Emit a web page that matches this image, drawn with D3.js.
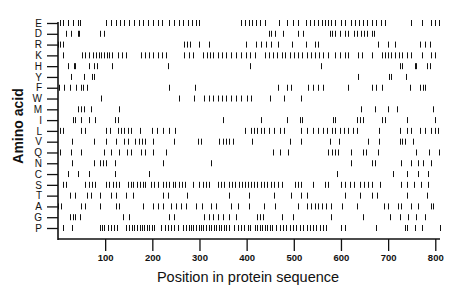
<!DOCTYPE html>
<html>
<head>
<meta charset="utf-8">
<script src="https://cdn.jsdelivr.net/npm/d3@7"></script>
<style>
  body { margin: 0; background: #fff; }
  svg { display: block; font-family: Arial, "Liberation Sans", sans-serif; }
  .tick text { fill: #111; }
</style>
</head>
<body>
<div id="chart"></div>
<script>
const WIDTH = 460
const HEIGHT = 299

// residues, top to bottom
const acids = ['E', 'D', 'R', 'K', 'H', 'Y', 'F', 'W', 'M', 'I', 'L', 'V', 'Q', 'N', 'C', 'S', 'T', 'A', 'G', 'P']
const xTicks = [100, 200, 300, 400, 500, 600, 700, 800]
const seqLength = 810

// positions of each amino acid along the sequence
const posE = [4, 11, 21, 32, 42, 47, 102, 112, 122, 132, 141, 151, 161, 171, 181, 191, 201, 211, 221, 236, 247, 256, 266, 276, 284, 293, 300, 388, 396, 404, 412, 419, 428, 438, 468, 486, 498, 509, 525, 534, 543, 551, 560, 567, 573, 578, 588, 600, 608, 622, 629, 638, 647, 656, 666, 675, 684, 694, 749, 771, 790, 799, 807]
const posD = [17, 28, 42, 45, 88, 98, 447, 452, 461, 477, 509, 520, 576, 581, 587, 597, 608, 614, 628, 635, 642, 649, 656, 665, 670]
const posR = [1, 4, 10, 268, 273, 279, 300, 321, 399, 419, 430, 440, 451, 467, 496, 525, 544, 551, 679, 700, 714, 767, 778, 788]
const posK = [10, 51, 58, 65, 75, 81, 86, 92, 98, 103, 109, 115, 127, 136, 144, 176, 185, 194, 202, 211, 221, 228, 268, 277, 287, 307, 315, 322, 329, 339, 348, 357, 367, 378, 388, 399, 407, 417, 438, 447, 456, 465, 474, 482, 491, 501, 509, 518, 527, 536, 544, 553, 562, 573, 588, 597, 608, 615, 636, 645, 665, 686, 693, 700, 707, 714, 723, 730, 739, 749, 771, 790, 799]
const posH = [21, 33, 37, 65, 77, 82, 115, 233, 408, 557, 725, 730, 757, 760, 783, 788]
const posY = [28, 56, 72, 77, 636, 701, 707, 737]
const posF = [3, 13, 26, 38, 48, 54, 62, 235, 291, 467, 486, 495, 530, 541, 551, 562, 614, 665, 675, 686, 746, 767, 774, 778]
const posW = [91, 257, 289, 310, 321, 329, 339, 348, 357, 367, 378, 388, 400, 409, 449, 479, 515]
const posM = [42, 49, 56, 70, 129, 642, 672, 699, 718, 795]
const posI = [31, 37, 49, 66, 79, 120, 127, 349, 430, 486, 513, 518, 583, 588, 635, 640, 647, 686, 693, 741, 799]
const posL = [4, 11, 49, 58, 102, 110, 127, 134, 141, 148, 155, 173, 199, 210, 223, 236, 248, 397, 409, 416, 423, 430, 437, 447, 458, 470, 479, 516, 527, 541, 551, 562, 571, 580, 588, 597, 607, 615, 626, 633, 680, 725, 739, 749, 767, 778, 790, 799, 806]
const posV = [30, 77, 102, 123, 141, 148, 164, 171, 178, 185, 201, 247, 296, 303, 342, 349, 356, 363, 371, 411, 491, 516, 576, 595, 658, 680, 725, 730, 735, 753]
const posQ = [4, 27, 49, 98, 112, 129, 146, 155, 176, 185, 201, 229, 456, 470, 488, 573, 580, 587, 594, 622, 647, 654, 679, 760, 786, 807]
const posN = [30, 77, 88, 95, 102, 120, 222, 325, 621, 666, 673, 728, 749, 764, 774, 790]
const posC = [21, 42, 66, 120, 194, 592, 711, 739, 764, 785]
const posS = [11, 17, 58, 66, 72, 79, 102, 109, 116, 122, 129, 148, 155, 160, 167, 173, 180, 185, 197, 204, 211, 222, 229, 236, 243, 249, 256, 263, 270, 286, 300, 307, 314, 321, 339, 346, 353, 363, 369, 376, 383, 390, 397, 403, 409, 416, 423, 430, 437, 444, 451, 458, 467, 474, 502, 509, 516, 541, 566, 573, 601, 609, 619, 628, 640, 649, 658, 666, 682, 728, 741, 755, 769, 785]
const posT = [25, 35, 61, 70, 89, 112, 124, 144, 158, 222, 233, 273, 362, 406, 458, 495, 516, 527, 609, 640, 666, 677, 739, 783]
const posA = [1, 6, 49, 58, 88, 123, 129, 181, 201, 211, 222, 240, 250, 261, 271, 293, 305, 325, 335, 367, 381, 406, 437, 461, 509, 527, 537, 544, 551, 560, 569, 578, 602, 633, 691, 700, 721, 728, 749, 764, 790, 795]
const posG = [25, 31, 37, 47, 137, 150, 236, 247, 310, 321, 328, 339, 349, 363, 378, 421, 428, 435, 474, 498, 578, 647, 703, 725, 742, 760, 778]
const posP = [11, 30, 88, 93, 98, 105, 112, 119, 126, 144, 151, 157, 162, 167, 173, 178, 183, 188, 194, 199, 204, 218, 226, 233, 240, 247, 254, 264, 271, 277, 282, 287, 293, 298, 303, 308, 314, 320, 325, 330, 335, 341, 346, 351, 356, 362, 374, 381, 388, 395, 402, 408, 417, 423, 428, 433, 438, 444, 449, 454, 463, 470, 477, 484, 491, 498, 505, 513, 520, 527, 534, 541, 548, 555, 562, 569, 601, 609, 675, 735, 741, 756, 771, 809]

const positions = {
  E: posE, D: posD, R: posR, K: posK, H: posH, Y: posY, F: posF, W: posW, M: posM, I: posI,
  L: posL, V: posV, Q: posQ, N: posN, C: posC, S: posS, T: posT, A: posA, G: posG, P: posP
}

const svg = d3.select('#chart')
  .append('svg')
  .attr('width', WIDTH)
  .attr('height', HEIGHT)

const x = d3.scaleLinear().domain([0, seqLength]).range([58, 440])
const y = d3.scalePoint().domain(acids).range([23, 228])
const axisY = 239

// marks
const marks = []
acids.forEach(a => positions[a].forEach(p => marks.push({ acid: a, pos: p })))

svg.append('g')
  .selectAll('line')
  .data(marks)
  .enter()
  .append('line')
  .attr('x1', d => Math.round(x(d.pos)) + 0.5)
  .attr('x2', d => Math.round(x(d.pos)) + 0.5)
  .attr('y1', d => y(d.acid) - 3)
  .attr('y2', d => y(d.acid) + 3)
  .attr('stroke', '#111')
  .attr('stroke-width', 1)

// y axis
const gy = svg.append('g')
  .attr('transform', 'translate(58,0)')
  .call(d3.axisLeft(y).tickSize(11).tickPadding(5))
gy.select('.domain').remove()
gy.selectAll('.tick line').attr('stroke', '#111').attr('stroke-width', 1.3)
gy.selectAll('.tick text').attr('font-size', 10).attr('font-family', 'Arial, "Liberation Sans", sans-serif')

// x axis
const gx = svg.append('g')
  .attr('transform', `translate(0,${axisY})`)
  .call(d3.axisBottom(x).tickValues(xTicks).tickSize(12).tickPadding(3))
gx.select('.domain').remove()
gx.selectAll('.tick line').attr('stroke', '#111').attr('stroke-width', 1.3)
gx.selectAll('.tick text').attr('font-size', 9.5).attr('font-weight', 'bold')
  .attr('font-family', 'Arial, "Liberation Sans", sans-serif')

// frame lines
svg.append('line')
  .attr('x1', 58).attr('x2', 58)
  .attr('y1', y('E') - 1).attr('y2', axisY + 1)
  .attr('stroke', '#111').attr('stroke-width', 1.6)
svg.append('line')
  .attr('x1', 58).attr('x2', 440)
  .attr('y1', axisY).attr('y2', axisY)
  .attr('stroke', '#111').attr('stroke-width', 1.6)

// titles
svg.append('text')
  .attr('x', 248)
  .attr('y', 282)
  .attr('text-anchor', 'middle')
  .attr('font-size', 14.5)
  .attr('fill', '#111')
  .text('Position in protein sequence')

svg.append('text')
  .attr('transform', 'translate(18,126) rotate(-90)')
  .attr('text-anchor', 'middle')
  .attr('dominant-baseline', 'central')
  .attr('font-size', 14)
  .attr('font-weight', 'bold')
  .attr('fill', '#111')
  .text('Amino acid')
</script>
</body>
</html>
